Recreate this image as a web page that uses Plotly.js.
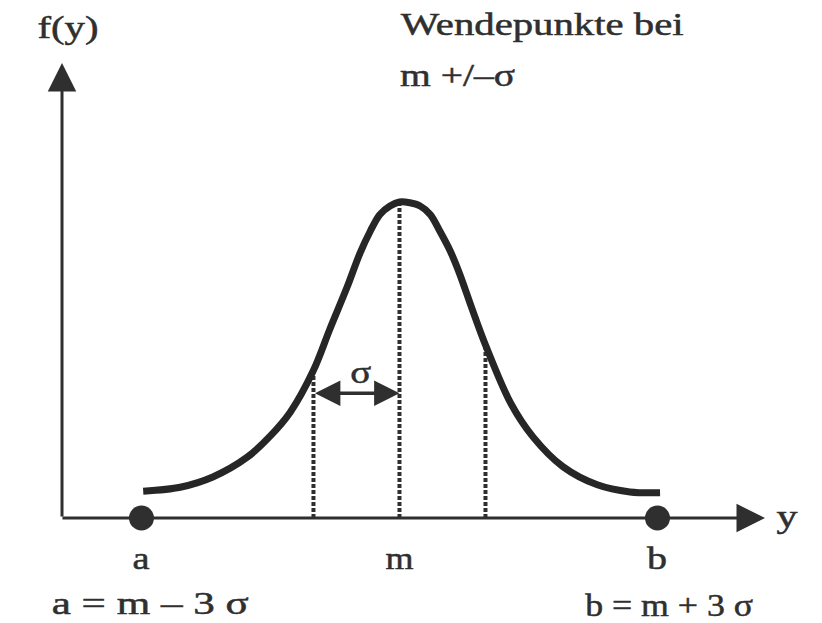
<!DOCTYPE html>
<html>
<head>
<meta charset="utf-8">
<script src="https://cdn.plot.ly/plotly-3.0.1.min.js"></script>
<style>
  html, body { margin: 0; padding: 0; background: #ffffff; }
  #chart { width: 822px; height: 623px; }
</style>
</head>
<body>
<div id="chart"></div>
<script>
// Bell curve f(y), sampled along the y axis; x is measured in units of σ from m
const curveX = [-2.98, -2.55, -2.17, -1.77, -1.51, -1.27, -1.0, -0.81, -0.61, -0.46, -0.34, -0.23, -0.11,
                0.0, 0.12, 0.24, 0.36, 0.47, 0.59, 0.70, 0.84, 1.0, 1.29, 1.55, 1.90, 2.30, 2.68, 3.03];
const curveY = [0.034, 0.039, 0.052, 0.077, 0.103, 0.134, 0.187, 0.239, 0.292, 0.335, 0.363, 0.384, 0.395,
                0.400, 0.399, 0.395, 0.384, 0.363, 0.338, 0.309, 0.266, 0.219, 0.146, 0.103, 0.065, 0.042, 0.033, 0.032];

// Inflection points at m − σ and m + σ, and the mean m
const inflectionX = [-1, 1];
const meanX = 0;

// Interval ends a = m − 3σ and b = m + 3σ
const endX = [-3, 3];

// Labels under the horizontal axis
const tickX = [-3, 0, 3];
const tickLabels = ['a', 'm', 'b'];
const endFormulas = ['a = m – 3 σ', 'b = m + 3 σ'];

// Axis extents (arrow tips)
const axisX = [-3.936, 4.25];
const axisTopY = 0.576;

const ink = '#2f2f2f';
const serif = 'Liberation Serif, Times New Roman, serif';

function curveAt(x) {
  return curveY[curveX.indexOf(x)];
}

const traces = [];

// Dashed drop lines at m − σ, m, m + σ
[inflectionX[0], meanX, inflectionX[1]].forEach(function (x) {
  traces.push({
    type: 'scatter', mode: 'lines',
    x: [x, x], y: [0, curveAt(x)],
    line: { color: ink, width: 4, dash: '4px,2px' },
    hoverinfo: 'skip', showlegend: false
  });
});

// The density curve
traces.push({
  type: 'scatter', mode: 'lines',
  x: curveX, y: curveY,
  line: { color: '#262626', width: 7, shape: 'spline', smoothing: 0.9 },
  hoverinfo: 'skip', showlegend: false
});

// Interval end points a and b on the axis
traces.push({
  type: 'scatter', mode: 'markers',
  x: endX, y: endX.map(function () { return 0; }),
  marker: { color: ink, size: 25, line: { width: 0 } },
  cliponaxis: false,
  hoverinfo: 'skip', showlegend: false
});

// Set width (px) of each label's line of text; the typeface here runs wide
const labelWidths = [];

function label(text, xp, yp, width) {
  labelWidths.push(width);
  return {
    text: text, xref: 'paper', yref: 'paper', x: xp, y: yp,
    xanchor: 'center', yanchor: 'middle', showarrow: false,
    font: { family: serif, size: 32, color: ink }
  };
}

function arrow(spec) {
  labelWidths.push(0);
  return Object.assign({
    xref: 'x', yref: 'y', axref: 'x', ayref: 'y', text: '', showarrow: true,
    arrowhead: 2, arrowwidth: 3, arrowcolor: ink, standoff: 0
  }, spec);
}

const annotations = [
  // horizontal axis with arrow
  arrow({ x: axisX[1], y: 0, ax: axisX[0], ay: 0, arrowsize: 1.9 }),
  // vertical axis with arrow
  arrow({ x: axisX[0] + 0.012, y: axisTopY, ax: axisX[0] + 0.012, ay: 0, arrowsize: 1.9 }),
  // σ span between m − σ and m
  arrow({ x: meanX, y: 0.158, ax: inflectionX[0], ay: 0.158, arrowside: 'end+start',
          startarrowhead: 2, arrowsize: 1.45, startarrowsize: 1.45, arrowwidth: 3.5, startstandoff: 0 }),

  label('f(y)', 0.0827, 0.9567, 61),
  label('Wendepunkte bei', 0.6588, 0.9615, 283),
  label('m +/–σ', 0.5566, 0.8796, 115),
  label('σ', 0.438, 0.403, 21),
  label('y', 0.9574, 0.1717, 21),
  label(endFormulas[0], 0.1825, 0.0321, 197),
  label(endFormulas[1], 0.8139, 0.0290, 168)
];

const tickWidths = [17, 28, 20];
tickX.forEach(function (x, i) {
  labelWidths.push(tickWidths[i]);
  annotations.push({
    text: tickLabels[i], xref: 'x', yref: 'paper', x: x, y: 0.1043,
    xanchor: 'center', yanchor: 'middle', showarrow: false,
    font: { family: serif, size: 32, color: ink }
  });
});

const layout = {
  width: 822, height: 623,
  margin: { l: 0, r: 0, t: 0, b: 0, pad: 0 },
  paper_bgcolor: '#ffffff', plot_bgcolor: '#ffffff',
  showlegend: false,
  xaxis: { range: [-4.645, 4.913], visible: false, fixedrange: true },
  yaxis: { range: [-0.1329, 0.6557], visible: false, fixedrange: true },
  annotations: annotations
};

Plotly.newPlot('chart', traces, layout, { staticPlot: true, displayModeBar: false }).then(function (gd) {
  gd.querySelectorAll('g.annotation').forEach(function (g) {
    const idx = +g.getAttribute('data-index');
    const t = g.querySelector('text.annotation-text');
    const w = labelWidths[idx];
    if (!t || !w) return;
    t.setAttribute('textLength', w);
    t.setAttribute('lengthAdjust', 'spacingAndGlyphs');
    // printed ink is a little heavier than the plain outline
    t.style.stroke = ink;
    t.style.strokeWidth = '0.5px';
  });
});
</script>
</body>
</html>
